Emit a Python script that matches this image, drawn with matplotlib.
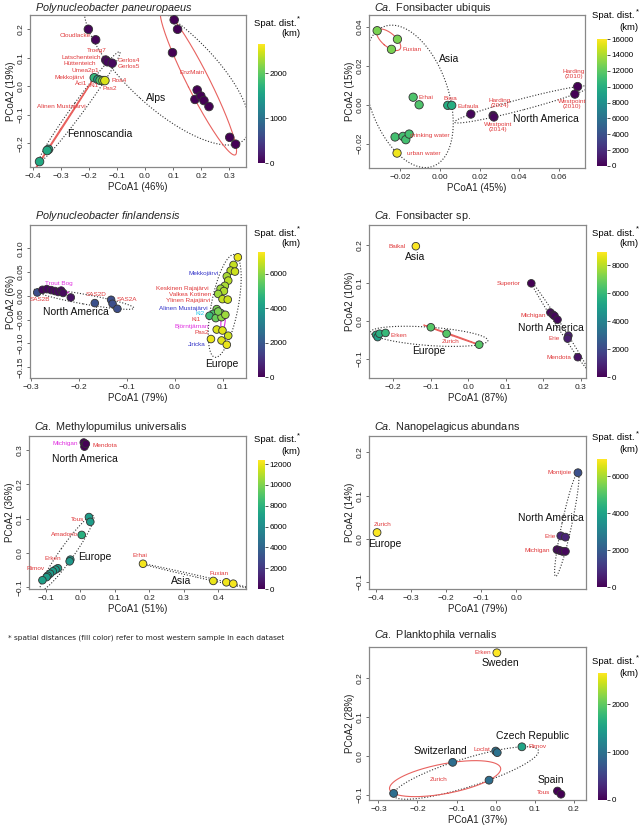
import numpy as np
import matplotlib
matplotlib.use('Agg')
import matplotlib.pyplot as plt

plt.rcParams['font.family'] = ['Liberation Sans', 'DejaVu Sans']
plt.rcParams['mathtext.fontset'] = 'custom'
plt.rcParams['mathtext.rm'] = 'Liberation Sans'
plt.rcParams['mathtext.it'] = 'Liberation Sans:italic'

# ---------------- data ----------------
# Polynucleobacter paneuropaeus
p1_x = [-0.202, -0.176, -0.140, -0.134, -0.117, 0.104, 0.116, 0.098, 0.186, 0.178, 0.199, 0.210, 0.228,
        0.302, 0.323, -0.181, -0.168, -0.160, -0.150, -0.143, -0.344, -0.349, -0.376]
p1_y = [0.200, 0.163, 0.092, 0.086, 0.081, 0.233, 0.200, 0.118, -0.013, -0.046, -0.034, -0.050, -0.071,
        -0.179, -0.203, 0.030, 0.024, 0.021, 0.020, 0.020, -0.221, -0.225, -0.264]
p1_d = [40, 30, 60, 60, 60, 0, 0, 0, 0, 0, 0, 0, 0, 0, 0, 1750, 1500, 1900, 2250, 2500, 1600, 1600, 1600]
p1_grp = ['Alps'] * 15 + ['Fenno'] * 8
p1_sub = [''] * 5 + ['EnzMain'] * 10 + ['AlinenM', '', '', '', '', 'AlinenM', 'AlinenM', 'AlinenM']

# Ca. Fonsibacter ubiquis
p2_x = [-0.0315, -0.0213, -0.0243, -0.0134, -0.0104, 0.0040, 0.0060, -0.0225, -0.0185, -0.0171, -0.0154,
        -0.0215, 0.0156, 0.0268, 0.0272, 0.0693, 0.0679]
p2_y = [0.0382, 0.0338, 0.0286, 0.0039, 0.0000, -0.0003, -0.0003, -0.0166, -0.0163, -0.0180, -0.0151,
        -0.0249, -0.0048, -0.0055, -0.0063, 0.0094, 0.0055]
p2_d = [12800, 12800, 12800, 11500, 11500, 9900, 9900, 11200, 11200, 11200, 11200, 15600, 300, 300, 300, 0, 0]
p2_grp = ['Asia'] * 12 + ['NA'] * 5
p2_sub = ['Fuxian'] * 3 + [''] * 14

# Polynucleobacter finlandensis
p3_x = [-0.287, -0.276, -0.267, -0.258, -0.250, -0.243, -0.237, -0.233, -0.217, -0.167, -0.133, -0.130, -0.120,
        0.131, 0.122, 0.116, 0.125, 0.108, 0.111, 0.104, 0.095, 0.102, 0.090, 0.099, 0.110,
        0.087, 0.095, 0.080, 0.072, 0.085, 0.097, 0.105, 0.090,
        0.087, 0.099, 0.111, 0.075, 0.097, 0.108]
p3_y = [0.007, 0.0126, 0.014, 0.012, 0.010, 0.008, 0.011, 0.006, -0.0035, -0.0154, -0.0084, -0.0168, -0.0273,
        0.081, 0.065, 0.053, 0.051, 0.041, 0.032, 0.021, 0.015, 0.010, 0.004, -0.007, -0.008,
        -0.028, -0.036, -0.038, -0.042, -0.047, -0.045, -0.040, -0.033,
        -0.071, -0.073, -0.084, -0.091, -0.094, -0.103]
p3_d = [1700, 150, 150, 150, 150, 150, 150, 150, 300, 1800, 1700, 1700, 1700,
        7000, 6600, 6500, 6700, 6300, 6500, 6300, 6200, 6400, 6200, 6600, 6700,
        5800, 5700, 5200, 4900, 5600, 6000, 6200, 5800,
        6800, 6900, 6700, 7000, 6900, 7000]
p3_grp = ['NA'] * 13 + ['Europe'] * 26
p3_sub = [''] + ['TroutBog'] * 7 + [''] * 5 + [''] * 17 + ['Bjorn', 'Bjorn', ''] + ['', 'Bjorn', '', '', '', '']

# Ca. Fonsibacter sp.
p4_x = [-0.140, 0.168, 0.219, 0.226, 0.230, 0.238, 0.267, 0.265, 0.292,
        -0.246, -0.242, -0.237, -0.221, -0.100, -0.058, 0.029]
p4_y = [0.197, 0.099, 0.022, 0.016, 0.013, 0.003, -0.039, -0.047, -0.096,
        -0.037, -0.043, -0.034, -0.032, -0.017, -0.034, -0.063]
p4_d = [8900, 0, 150, 150, 150, 200, 700, 700, 350, 5400, 5000, 5600, 6000, 6600, 6600, 6600]
p4_grp = ['Asia'] + ['NA'] * 8 + ['Europe'] * 7
p4_sub = ['', '', 'Michigan', 'Michigan', 'Michigan', 'Michigan', '', '', '', '', '', '', '',
          'Zurich', 'Zurich', 'Zurich']

# Ca. Methylopumilus universalis
p5_x = [0.010, 0.014, 0.012, 0.016,
        0.025, 0.029, 0.004, -0.029, -0.031, -0.065, -0.072, -0.080, -0.088, -0.095, -0.098, -0.110,
        0.182, 0.386, 0.424, 0.444]
p5_y = [0.322, 0.316, 0.310, 0.318,
        0.105, 0.091, 0.053, -0.019, -0.024, -0.044, -0.048, -0.053, -0.060, -0.066, -0.070, -0.079,
        -0.031, -0.081, -0.085, -0.089]
p5_d = [0, 0, 30, 0,
        6800, 6800, 7800, 6600, 6600, 6800, 6800, 6800, 6800, 6700, 6800, 7000,
        12200, 12000, 12100, 12200]
p5_grp = ['NA'] * 4 + ['Europe'] * 12 + ['Asia'] * 4
p5_sub = [''] * 20

# Ca. Nanopelagicus abundans
p6_x = [-0.398, 0.177, 0.128, 0.141, 0.117, 0.125, 0.133, 0.141]
p6_y = [0.0146, 0.153, 0.007, 0.004, -0.025, -0.027, -0.029, -0.029]
p6_d = [6900, 1700, 700, 700, 150, 150, 150, 150]
p6_grp = ['Europe'] + ['NA'] * 7
p6_sub = ['', '', '', '', 'Michigan', 'Michigan', 'Michigan', 'Michigan']

# Ca. Planktophila vernalis
p7_x = [0.003, 0.000, 0.004, 0.067, -0.110, -0.017, -0.261, 0.158, 0.167]
p7_y = [0.266, 0.013, 0.009, 0.024, -0.016, -0.062, -0.096, -0.090, -0.098]
p7_d = [2650, 1000, 1000, 1550, 950, 950, 950, 0, 0]
p7_grp = ['Sweden', 'Central', 'Central', 'Central', 'Central', 'Central', 'Central', 'Spain', 'Spain']
p7_sub = ['', '', '', '', 'Zurich', 'Zurich', 'Zurich', '', '']

RED = '#e0393b'
BLUE = '#3535c8'
MAG = '#e030e0'
CYAN = '#22c8e8'

# text labels: (text, x, y, colour)
p1_labels = [('Cloudlacke', -0.249, 0.178, RED), ('Troeg7', -0.172, 0.125, RED),
             ('Latschenteich', -0.228, 0.102, RED), ('Hüttenteich', -0.232, 0.081, RED),
             ('Gerlos4', -0.058, 0.092, RED), ('Gerlos5', -0.056, 0.070, RED),
             ('Umea2p1', -0.214, 0.055, RED), ('Mekkojärvi', -0.267, 0.030, RED),
             ('Äci1', -0.228, 0.011, RED), ('Ki1', -0.180, 0.002, RED), ('Pas2', -0.125, -0.007, RED),
             ('Roa4', -0.093, 0.020, RED), ('Alinen Mustajärvi', -0.297, -0.071, RED),
             ('EnzMain', 0.166, 0.048, RED)]
p1_regions = [('Alps', 0.041, -0.042), ('Fennoscandia', -0.160, -0.167)]

p2_labels = [('Fuxian', -0.0139, 0.0283, RED), ('Erhai', -0.0070, 0.0039, RED), ('Biwa', 0.0054, 0.0034, RED),
             ('Eufaula', 0.0143, -0.0009, RED), ('Harding\n(2014)', 0.0302, 0.0007, RED),
             ('Westpoint\n(2014)', 0.0292, -0.0117, RED), ('Harding\n(2010)', 0.0674, 0.0159, RED),
             ('Westpoint\n(2010)', 0.0664, 0.0005, RED), ('drinking water', -0.0050, -0.0158, RED),
             ('urban water', -0.0080, -0.0252, RED)]
p2_regions = [('Asia', 0.0047, 0.0235), ('North America', 0.0533, -0.0072)]

p3_labels = [('Trout Bog', -0.243, 0.0266, MAG), ('SAS2B', -0.281, -0.0084, RED), ('SAS2D', -0.165, 0.0035, RED),
             ('SAS2A', -0.100, -0.007, RED), ('Mekkojärvi', 0.060, 0.0476, BLUE),
             ('Keskinen Rajajärvi', 0.016, 0.0147, RED), ('Valkea Kotinen', 0.031, 0.002, RED),
             ('Ylinen Rajajärvi', 0.028, -0.0105, RED), ('Alinen Mustajärvi', 0.017, -0.026, BLUE),
             ('Ki2', 0.052, -0.038, CYAN), ('Ki1', 0.045, -0.050, RED), ('Björntjärnan', 0.035, -0.064, MAG),
             ('Pas2', 0.056, -0.077, RED), ('Jiricka', 0.045, -0.103, BLUE)]
p3_regions = [('North America', -0.207, -0.035), ('Europe', 0.097, -0.143)]

p4_labels = [('Baikal', -0.190, 0.197, RED), ('Superior', 0.107, 0.099, RED), ('Michigan', 0.172, 0.015, RED),
             ('Erie', 0.228, -0.046, RED), ('Mendota', 0.242, -0.096, RED), ('Erken', -0.185, -0.039, RED),
             ('Zurich', -0.047, -0.054, RED)]
p4_regions = [('Asia', -0.143, 0.169), ('North America', 0.220, -0.019), ('Europe', -0.106, -0.081)]

p5_labels = [('Michigan', -0.043, 0.319, MAG), ('Mendota', 0.071, 0.312, RED), ('Tous', -0.009, 0.099, RED),
             ('Amadorio', -0.046, 0.053, RED), ('Erken', -0.079, -0.015, RED), ('Rimov', -0.130, -0.046, RED),
             ('Erhai', 0.172, -0.008, RED), ('Fuxian', 0.403, -0.060, RED)]
p5_regions = [('North America', 0.0126, 0.273), ('Europe', 0.042, -0.010), ('Asia', 0.294, -0.080)]

p6_labels = [('Zurich', -0.383, 0.034, RED), ('Montjoie', 0.125, 0.153, RED), ('Erie', 0.096, 0.005, RED),
             ('Michigan', 0.061, -0.028, RED)]
p6_regions = [('Europe', -0.375, -0.012), ('North America', 0.100, 0.048)]

p7_labels = [('Erken', -0.033, 0.266, RED), ('Rimov', 0.107, 0.024, RED), ('Loclat', -0.036, 0.017, RED),
             ('Zurich', -0.145, -0.060, RED), ('Tous', 0.122, -0.093, RED)]
p7_regions = [('Sweden', 0.011, 0.241), ('Czech Republic', 0.095, 0.051), ('Switzerland', -0.141, 0.013),
              ('Spain', 0.142, -0.062)]

SUB_COL = {'TroutBog': MAG, 'Bjorn': MAG}

# ---------------- helpers ----------------
W, H = 640, 826
fig = plt.figure(figsize=(6.4, 8.26), dpi=100)


def box(l, t, r, b):
    return fig.add_axes([l / W, 1 - b / H, (r - l) / W, (b - t) / H])


def hull_ellipse(px, py, n=240):
    # minimum volume enclosing ellipse (Khachiyan)
    P = np.column_stack([px, py]).astype(float)
    m = P.mean(0)
    s = P.std(0).max()
    Z = (P - m) / s
    k, d = Z.shape
    Q = np.vstack([Z.T, np.ones(k)])
    u = np.full(k, 1.0 / k)
    for _ in range(5000):
        X = (Q * u) @ Q.T + 1e-10 * np.eye(d + 1)
        M = np.sum(Q * np.linalg.solve(X, Q), axis=0)
        j = np.argmax(M)
        if M[j] - d - 1 < 1e-5:
            break
        step = (M[j] - d - 1) / ((d + 1) * (M[j] - 1))
        u = (1 - step) * u
        u[j] += step
    c = Z.T @ u
    S = (Z.T * u) @ Z - np.outer(c, c)
    w, V = np.linalg.eigh(S)
    w = np.sqrt(np.clip(w, 0, None) * d)
    t = np.linspace(0, 2 * np.pi, n)
    circ = np.vstack([np.cos(t), np.sin(t)])
    pts = (V @ (w[:, None] * circ)).T + c
    pts = pts * s + m
    return pts[:, 0], pts[:, 1]


def fmt(v, dec):
    v = round(float(v), dec) + 0.0
    return f'{v:.{dec}f}'.replace('-', '\u2212')


def panel(ax_box, cb_box, spat, title, x, y, d, grp, sub, vmax, cticks, xlim, ylim,
          xticks, yticks, xdec, ydec, xlab, ylab, labels, regions, size=32, title_gap=6):
    ax = box(*ax_box)
    cax = box(*cb_box)
    x = np.array(x)
    y = np.array(y)
    grp = np.array(grp)
    sub = np.array(sub)
    for g in dict.fromkeys(grp):
        idx = grp == g
        if idx.sum() >= 3:
            ex, ey = hull_ellipse(x[idx], y[idx])
            ax.plot(ex, ey, ls=(0, (1, 1.6)), color='#333333', lw=0.8, zorder=1)
    for g in dict.fromkeys(sub):
        if g == '':
            continue
        idx = sub == g
        if idx.sum() >= 3:
            ex, ey = hull_ellipse(x[idx], y[idx])
            ax.plot(ex, ey, color=SUB_COL.get(g, '#e8625f'), lw=0.8, zorder=2)
    sc = ax.scatter(x, y, c=d, cmap='viridis', vmin=0, vmax=vmax, s=size,
                    edgecolors='#333333', linewidths=0.6, zorder=3)
    for txt, tx, ty, col in labels:
        ax.text(tx, ty, txt, color=col, fontsize=4.6, ha='center', va='center',
                linespacing=1.0, zorder=4)
    for txt, tx, ty in regions:
        ax.text(tx, ty, txt, color='#111111', fontsize=7.5, ha='center', va='center', zorder=4)
    ax.set_xlim(*xlim)
    ax.set_ylim(*ylim)
    ax.set_xticks(xticks)
    ax.set_xticklabels([fmt(v, xdec) for v in xticks])
    ax.set_yticks(yticks)
    ax.set_yticklabels([fmt(v, ydec) for v in yticks], rotation=90, va='center')
    ax.tick_params(length=2.5, width=0.6, pad=1.5, labelsize=6, color='#555555', labelcolor='#222222')
    for sp in ax.spines.values():
        sp.set_color('#888888')
        sp.set_linewidth(0.9)
    ax.set_xlabel(xlab, fontsize=7, labelpad=2, color='#222222')
    ax.set_ylabel(ylab, fontsize=7, labelpad=1, color='#222222')
    top = ax_box[1]
    fig.text((ax_box[0] + 5) / W, 1 - (top - title_gap) / H, title, fontsize=7.8,
             ha='left', va='baseline', color='#222222')
    cb = fig.colorbar(sc, cax=cax, ticks=cticks)
    cb.outline.set_visible(False)
    cb.ax.tick_params(length=2, width=0.6, pad=1.5, labelsize=5.8, color='#333333')
    fig.text((spat[0] - 4) / W, 1 - spat[1] / H, 'Spat. dist.', fontsize=6.8, ha='right', va='center')
    fig.text((spat[0] - 3.5) / W, 1 - (spat[1] - 4) / H, '*', fontsize=5.5, ha='left', va='center')
    fig.text(spat[0] / W, 1 - (spat[1] + 11) / H, '(km)', fontsize=6.8, ha='right', va='center')
    return ax


def steps(a, b, st):
    return list(np.round(np.arange(a, b + st / 2, st), 4))


panel((30, 15, 246, 167), (258, 44, 265, 163), (300, 23), r'$\it{Polynucleobacter\ paneuropaeus}$',
      p1_x, p1_y, p1_d, p1_grp, p1_sub, 2650, [0, 1000, 2000], (-0.41, 0.36), (-0.283, 0.25),
      steps(-0.4, 0.3, 0.1), steps(-0.2, 0.2, 0.1), 1, 1, 'PCoA1 (46%)', 'PCoA2 (19%)',
      p1_labels, p1_regions, size=38, title_gap=4)

panel((369, 15, 585, 168), (597, 39, 607, 166), (639, 16), r'$\it{Ca.}$ Fonsibacter ubiquis',
      p2_x, p2_y, p2_d, p2_grp, p2_sub, 16000, steps(0, 16000, 2000), (-0.0356, 0.073), (-0.0326, 0.0463),
      steps(-0.02, 0.06, 0.02), steps(-0.02, 0.04, 0.02), 2, 2, 'PCoA1 (45%)', 'PCoA2 (15%)',
      p2_labels, p2_regions, size=36, title_gap=4)

panel((30, 225, 246, 378), (258, 252, 265, 377), (300, 233), r'$\it{Polynucleobacter\ finlandensis}$',
      p3_x, p3_y, p3_d, p3_grp, p3_sub, 7250, [0, 2000, 4000, 6000], (-0.302, 0.148), (-0.173, 0.149),
      steps(-0.3, 0.1, 0.1), steps(-0.15, 0.10, 0.05), 1, 2, 'PCoA1 (79%)', 'PCoA2 (6%)',
      p3_labels, p3_regions, size=30)

panel((369, 225, 586, 378), (597, 252, 607, 377), (639, 233), r'$\it{Ca.}$ Fonsibacter sp.',
      p4_x, p4_y, p4_d, p4_grp, p4_sub, 8950, [0, 2000, 4000, 6000, 8000], (-0.265, 0.314), (-0.151, 0.253),
      steps(-0.2, 0.3, 0.1), steps(-0.1, 0.2, 0.1), 1, 1, 'PCoA1 (87%)', 'PCoA2 (10%)',
      p4_labels, p4_regions, size=30)

panel((29, 436, 246, 589), (258, 460, 265, 589), (300, 440), r'$\it{Ca.}$ Methylopumilus universalis',
      p5_x, p5_y, p5_d, p5_grp, p5_sub, 12400, steps(0, 12000, 2000), (-0.149, 0.481), (-0.1045, 0.341),
      steps(-0.1, 0.4, 0.1), steps(-0.1, 0.3, 0.1), 1, 1, 'PCoA1 (51%)', 'PCoA2 (36%)',
      p5_labels, p5_regions, size=30)

panel((369, 436, 586, 589), (597, 459, 607, 587), (639, 438), r'$\it{Ca.}$ Nanopelagicus abundans',
      p6_x, p6_y, p6_d, p6_grp, p6_sub, 6930, [0, 2000, 4000, 6000], (-0.421, 0.2), (-0.116, 0.238),
      steps(-0.4, 0.0, 0.1), steps(-0.1, 0.2, 0.1), 1, 1, 'PCoA1 (79%)', 'PCoA2 (14%)',
      p6_labels, p6_regions, size=32)

panel((369, 647, 586, 800), (598, 673, 607, 800), (639, 662), r'$\it{Ca.}$ Planktophila vernalis',
      p7_x, p7_y, p7_d, p7_grp, p7_sub, 2650, [0, 1000, 2000], (-0.324, 0.231), (-0.113, 0.281),
      steps(-0.3, 0.2, 0.1), steps(-0.1, 0.2, 0.1), 1, 1, 'PCoA1 (37%)', 'PCoA2 (28%)',
      p7_labels, p7_regions, size=32, title_gap=9)

fig.text(8 / W, 1 - 638 / H, '* spatial distances (fill color) refer to most western sample in each dataset',
         fontsize=5.3, family='DejaVu Sans', ha='left', va='center', color='#222222')

fig.savefig('out.png', dpi=100)
